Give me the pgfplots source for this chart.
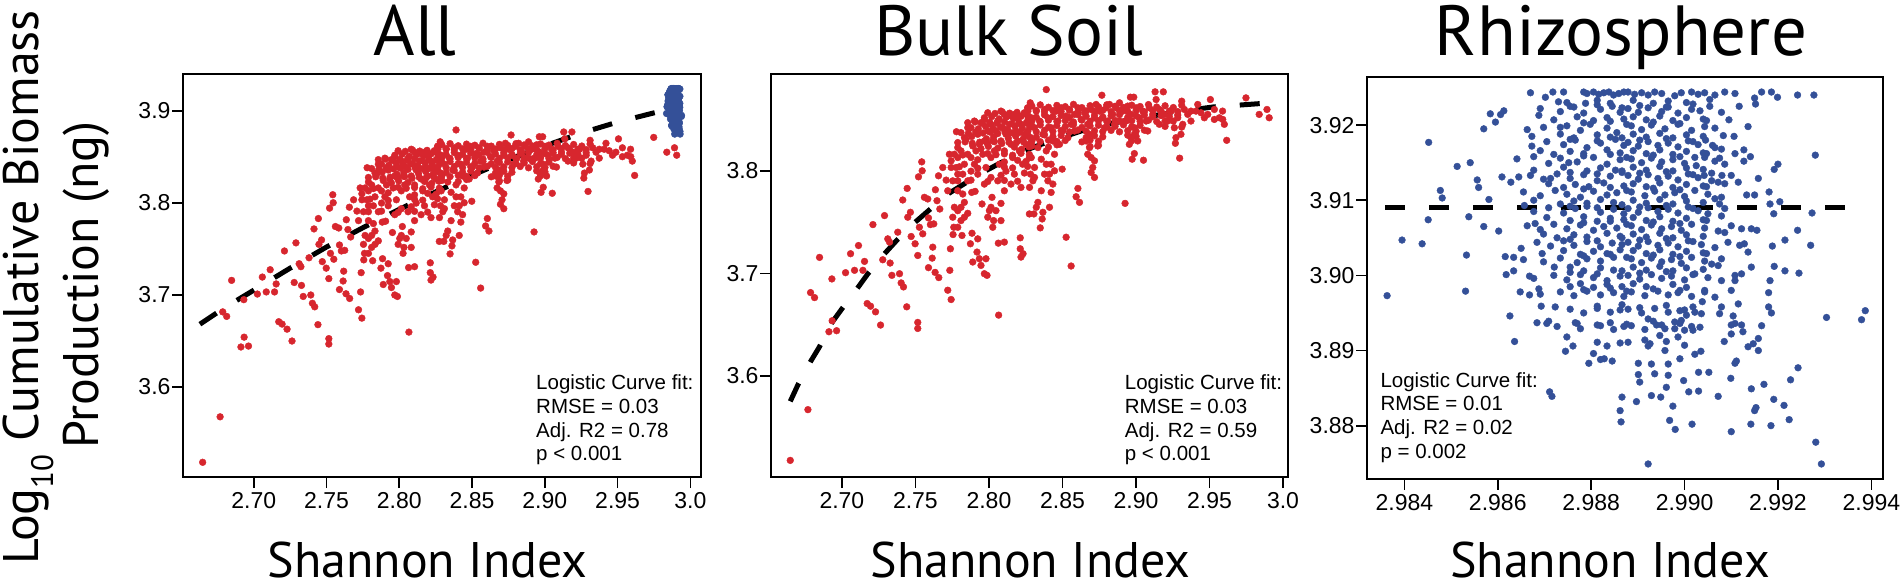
\documentclass[border=0pt]{standalone}
\usepackage{fontspec}
\setmainfont{PT Sans}
\newfontfamily\tickfont{Liberation Sans}
\usepackage{pgfplots}
\pgfplotsset{compat=1.18}
\usepackage{pgfplotstable}
\definecolor{ptred}{RGB}{215,38,46}
\definecolor{ptblue}{RGB}{52,80,152}

\pgfplotstableread{
x y
2.6649 3.5177
2.6769 3.5672
2.6787 3.6814
2.6814 3.6765
2.6848 3.7157
2.6932 3.6947
2.6912 3.6432
2.6964 3.6442
2.6934 3.6539
2.7025 3.7008
2.7059 3.7193
2.7113 3.7273
2.7086 3.7031
2.7143 3.7031
2.7154 3.7118
2.7172 3.6707
2.7195 3.6681
2.7229 3.6626
2.7263 3.6497
2.7211 3.7477
2.7290 3.7565
2.7278 3.7134
2.7328 3.7102
2.7340 3.6982
2.7392 3.6998
2.7403 3.6908
2.7419 3.6869
2.7441 3.6675
2.7380 3.7403
2.7312 3.7338
2.7324 3.7306
2.7414 3.7717
2.7444 3.7830
2.7466 3.7597
2.7448 3.7549
2.7471 3.7361
2.7498 3.7290
2.7516 3.7176
2.7516 3.6523
2.7516 3.6464
2.7527 3.7451
2.7543 3.8089
2.7546 3.8002
2.7521 3.7943
2.7550 3.7387
2.7561 3.7743
2.7584 3.7727
2.7589 3.7542
2.7602 3.7477
2.7625 3.7484
2.7618 3.7257
2.7614 3.7150
2.7589 3.7057
2.7634 3.7011
2.7659 3.6960
2.7647 3.7710
2.7636 3.7817
2.7666 3.7629
2.7657 3.7953
2.7686 3.8034
2.7709 3.7911
2.7731 3.8163
2.7720 3.7807
2.7738 3.7241
2.7734 3.7031
2.7720 3.6837
2.7743 3.6746
2.7756 3.7380
2.7761 3.7451
2.7779 3.8383
2.7754 3.7549
2.7765 3.7646
2.7817 3.7371
2.7874 3.7290
2.7890 3.7112
2.7919 3.7209
2.7935 3.7144
2.7946 3.7079
2.7969 3.6998
2.7987 3.6982
2.7885 3.7393
2.7924 3.7338
2.7980 3.7144
2.8066 3.6594
2.8064 3.7296
2.8105 3.7306
2.8213 3.7348
2.8213 3.7241
2.8218 3.7160
2.8232 3.7193
2.8026 3.7451
2.8032 3.7516
2.8082 3.7516
2.8014 3.7646
2.8003 3.7613
2.8021 3.7743
2.8082 3.7684
2.7953 3.7678
2.7906 3.7801
2.7883 3.7791
2.7856 3.7587
2.7833 3.7694
2.7810 3.7646
2.7788 3.7613
2.7878 3.8131
2.7833 3.8066
2.7844 3.8309
2.7856 3.8422
2.7901 3.8487
2.7946 3.8471
2.7969 3.8503
2.7924 3.8358
2.7969 3.8293
2.8014 3.8131
2.8105 3.8552
2.8150 3.8536
2.8195 3.8519
2.8241 3.8568
2.8281 3.8665
2.7788 3.8131
2.7810 3.8196
2.7822 3.7969
2.7856 3.7904
2.7878 3.7998
2.7901 3.8066
2.7912 3.8196
2.7935 3.8260
2.7958 3.8163
2.7980 3.8034
2.7992 3.8390
2.8014 3.8455
2.8026 3.8293
2.8037 3.8196
2.8048 3.8390
2.8060 3.8487
2.8071 3.8066
2.8082 3.8293
2.8094 3.8422
2.8105 3.8196
2.8116 3.7998
2.8127 3.8358
2.8139 3.8455
2.8150 3.8260
2.8161 3.8131
2.8173 3.7969
2.8184 3.8390
2.8195 3.8293
2.8207 3.8196
2.8218 3.8455
2.8229 3.8066
2.8241 3.8358
2.8252 3.8260
2.8263 3.8487
2.8275 3.8131
2.8218 3.7840
2.8150 3.7872
2.8105 3.7807
2.8060 3.7904
2.8014 3.7937
2.7969 3.7872
2.7924 3.7969
2.7810 3.7516
2.7788 3.7451
2.7833 3.7549
2.7992 3.7549
2.8048 3.7613
2.8275 3.7581
2.8116 3.8358
2.8173 3.8552
2.8082 3.8584
2.8263 3.8616
2.7890 3.8244
2.7856 3.8163
2.7777 3.8034
2.7754 3.7904
2.7788 3.7807
2.7822 3.7775
2.7969 3.8519
2.8019 3.8530
2.8069 3.8508
2.8118 3.8525
2.8168 3.8512
2.8218 3.8533
2.8268 3.8515
2.7878 3.8422
2.7928 3.8411
2.7978 3.8433
2.8028 3.8417
2.8078 3.8428
2.8127 3.8407
2.8177 3.8436
2.8227 3.8419
2.8277 3.8426
2.7833 3.8325
2.7883 3.8336
2.7983 3.8314
2.8032 3.8330
2.8132 3.8319
2.8182 3.8340
2.8232 3.8311
2.8281 3.8328
2.7788 3.8228
2.7946 3.8217
2.7996 3.8239
2.8060 3.8222
2.8173 3.8233
2.8223 3.8212
2.8272 3.8236
2.7743 3.8099
2.7924 3.8110
2.8105 3.8088
2.8195 3.8104
2.8252 3.8093
2.7788 3.7969
2.8082 3.7958
2.8241 3.7980
2.7992 3.8568
2.8041 3.8561
2.8091 3.8575
2.8141 3.8564
2.8191 3.8572
2.8241 3.8559
2.7856 3.8471
2.7906 3.8478
2.7955 3.8464
2.8005 3.8475
2.8055 3.8467
2.8105 3.8480
2.8155 3.8462
2.8204 3.8473
2.8254 3.8469
2.7810 3.8374
2.7860 3.8367
2.7910 3.8381
2.7960 3.8370
2.8010 3.8378
2.8060 3.8365
2.8109 3.8383
2.8159 3.8372
2.8209 3.8376
2.8259 3.8368
2.7788 3.8277
2.7838 3.8284
2.7887 3.8270
2.7937 3.8281
2.7987 3.8273
2.8037 3.8286
2.8087 3.8268
2.8137 3.8279
2.8186 3.8275
2.8236 3.8283
2.8286 3.8271
2.7765 3.8163
2.7822 3.8156
2.7992 3.8170
2.8048 3.8159
2.8105 3.8167
2.8161 3.8154
2.8218 3.8172
2.8275 3.8161
2.7743 3.8034
2.7799 3.8041
2.7924 3.8027
2.8105 3.8038
2.8161 3.8030
2.8263 3.8044
2.7788 3.7904
2.7878 3.7911
2.7992 3.7897
2.8105 3.7908
2.8195 3.7900
2.8390 3.8794
2.8768 3.8739
2.8962 3.8720
2.8985 3.8720
2.9130 3.8772
2.9186 3.8772
2.9137 3.8697
2.9311 3.8681
2.9506 3.8697
2.9748 3.8713
2.9891 3.8600
2.9838 3.8552
2.9906 3.8519
2.9617 3.8299
2.9601 3.8455
2.9567 3.8519
2.9488 3.8552
2.9420 3.8649
2.9408 3.8584
2.9268 3.8270
2.9297 3.8125
2.9051 3.8105
2.8974 3.8115
2.8989 3.8170
2.8955 3.8260
2.8926 3.7684
2.8605 3.7830
2.8616 3.7694
2.8593 3.7749
2.8525 3.7354
2.8559 3.7073
2.8498 3.8018
2.8349 3.7445
2.8362 3.7532
2.8367 3.7597
2.8333 3.7694
2.8306 3.7581
2.8283 3.7969
2.8423 3.7791
2.8435 3.7872
2.8401 3.7904
2.8378 3.7969
2.8423 3.8066
2.8356 3.8115
2.8412 3.7969
2.8706 3.8034
2.8718 3.7937
2.8695 3.7985
2.8672 3.8163
2.8684 3.8228
2.8740 3.8244
2.8718 3.8099
2.8265 3.8616
2.8288 3.8519
2.8310 3.8422
2.8322 3.8584
2.8344 3.8487
2.8367 3.8358
2.8378 3.8600
2.8401 3.8519
2.8423 3.8422
2.8435 3.8293
2.8457 3.8584
2.8469 3.8487
2.8491 3.8616
2.8503 3.8390
2.8525 3.8536
2.8548 3.8600
2.8559 3.8455
2.8582 3.8552
2.8605 3.8616
2.8627 3.8503
2.8650 3.8568
2.8672 3.8455
2.8684 3.8358
2.8695 3.8600
2.8718 3.8519
2.8729 3.8649
2.8752 3.8584
2.8774 3.8519
2.8797 3.8616
2.8820 3.8649
2.8842 3.8552
2.8865 3.8616
2.8888 3.8665
2.8910 3.8584
2.8933 3.8487
2.8944 3.8633
2.8967 3.8552
2.8989 3.8422
2.9001 3.8616
2.9023 3.8519
2.9046 3.8584
2.9069 3.8487
2.9091 3.8616
2.9114 3.8552
2.9159 3.8600
2.9193 3.8552
2.9216 3.8487
2.9239 3.8584
2.9261 3.8422
2.9284 3.8519
2.9306 3.8358
2.9329 3.8600
2.9352 3.8552
2.9374 3.8584
2.9442 3.8568
2.9533 3.8600
2.9590 3.8503
2.8288 3.8293
2.8333 3.8228
2.8390 3.8196
2.8446 3.8163
2.8480 3.8260
2.8537 3.8325
2.8582 3.8390
2.8661 3.8293
2.8695 3.8131
2.8288 3.8131
2.8310 3.8034
2.8276 3.7840
2.8299 3.7904
2.8390 3.8066
2.8446 3.8002
2.8356 3.7807
2.8322 3.7646
2.8412 3.7646
2.8310 3.7937
2.8989 3.8358
2.9012 3.8293
2.8967 3.8325
2.9159 3.8455
2.9080 3.8390
2.8786 3.8422
2.8854 3.8455
2.8888 3.8487
2.8808 3.8487
2.9318 3.8455
2.9272 3.8325
2.8292 3.8633
2.8349 3.8645
2.8405 3.8622
2.8462 3.8640
2.8519 3.8628
2.8575 3.8650
2.8632 3.8618
2.8688 3.8637
2.8745 3.8626
2.8802 3.8646
2.8858 3.8631
2.8915 3.8620
2.8971 3.8642
2.9028 3.8629
2.9085 3.8648
2.9141 3.8624
2.9198 3.8636
2.9254 3.8619
2.9311 3.8641
2.8265 3.8536
2.8322 3.8525
2.8378 3.8547
2.8435 3.8530
2.8491 3.8541
2.8548 3.8522
2.8605 3.8550
2.8661 3.8533
2.8718 3.8544
2.8774 3.8527
2.8831 3.8539
2.8888 3.8549
2.8944 3.8524
2.9001 3.8537
2.9057 3.8545
2.9114 3.8529
2.9171 3.8540
2.9227 3.8531
2.9284 3.8546
2.8292 3.8438
2.8349 3.8449
2.8405 3.8427
2.8462 3.8443
2.8519 3.8432
2.8575 3.8452
2.8632 3.8425
2.8688 3.8440
2.8745 3.8446
2.8802 3.8429
2.8858 3.8436
2.8915 3.8450
2.8971 3.8431
2.9028 3.8444
2.9198 3.8435
2.9311 3.8428
2.8265 3.8341
2.8322 3.8330
2.8378 3.8352
2.8435 3.8336
2.8491 3.8347
2.8661 3.8326
2.8718 3.8344
2.8774 3.8333
2.8944 3.8349
2.9001 3.8338
2.8292 3.8244
2.8405 3.8233
2.8462 3.8255
2.8688 3.8239
2.8745 3.8250
2.8265 3.8584
2.8322 3.8590
2.8378 3.8578
2.8435 3.8588
2.8491 3.8580
2.8548 3.8592
2.8605 3.8576
2.8661 3.8586
2.8718 3.8582
2.8774 3.8591
2.8831 3.8579
2.8888 3.8587
2.8944 3.8581
2.9001 3.8593
2.9057 3.8577
2.9114 3.8589
2.9171 3.8583
2.9227 3.8585
2.9284 3.8579
2.8292 3.8487
2.8349 3.8480
2.8405 3.8494
2.8462 3.8483
2.8519 3.8491
2.8575 3.8478
2.8632 3.8496
2.8688 3.8485
2.8745 3.8489
2.8802 3.8481
2.8858 3.8493
2.8915 3.8479
2.8971 3.8490
2.9028 3.8484
2.9085 3.8495
2.9141 3.8482
2.9198 3.8488
2.9254 3.8486
2.8265 3.8390
2.8322 3.8383
2.8378 3.8397
2.8435 3.8386
2.8491 3.8394
2.8548 3.8381
2.8605 3.8399
2.8661 3.8388
2.8718 3.8392
2.8774 3.8384
2.8831 3.8396
2.8888 3.8382
2.8944 3.8393
2.9001 3.8387
2.9057 3.8398
2.8292 3.8293
2.8349 3.8286
2.8405 3.8300
2.8462 3.8289
2.8519 3.8297
2.8632 3.8284
2.8688 3.8302
2.8745 3.8291
2.8971 3.8295
2.9374 3.8487
2.9465 3.8519
2.9533 3.8503
2.9589 3.8584
}\redpts

\pgfplotstableread{
x y
2.98363 3.8973
2.98395 3.9047
2.98438 3.9042
2.98451 3.9074
2.98452 3.9177
2.98477 3.9113
2.98481 3.9103
2.98513 3.9145
2.98541 3.9150
2.98538 3.9078
2.98533 3.9027
2.98531 3.8979
2.98556 3.9127
2.98559 3.9117
2.98570 3.9195
2.98570 3.9065
2.98581 3.9101
2.98584 3.9215
2.98595 3.9204
2.98602 3.9059
2.98606 3.9214
2.98613 3.9219
2.98609 3.9131
2.98616 3.9025
2.98618 3.9001
2.98626 3.8946
2.98628 3.9124
2.98634 3.9006
2.98636 3.8912
2.98634 3.9024
2.98645 3.9131
2.98648 3.8978
2.98650 3.9036
2.98655 3.9021
2.98657 3.9093
2.98663 3.9194
2.98668 3.8974
2.98668 3.8999
2.98670 3.9243
2.98673 3.9185
2.98677 3.9140
2.98680 3.9069
2.98684 3.8937
2.98688 3.9213
2.98688 3.8982
2.98691 3.8975
2.98693 3.8959
2.98695 3.9029
2.98698 3.9197
2.98702 3.9237
2.98705 3.8936
2.98709 3.8939
2.98711 3.8845
2.98716 3.8839
2.98713 3.9129
2.98718 3.9244
2.98721 3.9011
2.98723 3.8958
2.98727 3.8932
2.98730 3.9231
2.98734 3.9197
2.98741 3.9244
2.98745 3.8899
2.98748 3.8918
2.98752 3.9150
2.98755 3.8985
2.98761 3.8906
2.98766 3.8937
2.98770 3.8936
2.98784 3.9244
2.98788 3.9229
2.98795 3.8883
2.98805 3.8896
2.98813 3.8934
2.98820 3.8888
2.98828 3.8889
2.98845 3.8886
2.98862 3.8820
2.98864 3.8805
2.98866 3.8838
2.98791 3.9242
2.98805 3.9244
2.98816 3.9241
2.98827 3.9243
2.98838 3.9244
2.98848 3.9240
2.98859 3.9242
2.98870 3.9244
2.98748 3.9230
2.98813 3.9233
2.98841 3.9229
2.98691 3.9222
2.98734 3.9218
2.98763 3.9224
2.98784 3.9216
2.98820 3.9221
2.98845 3.9225
2.98862 3.9217
2.98720 3.9207
2.98770 3.9211
2.98805 3.9206
2.98834 3.9210
2.98870 3.9208
2.98748 3.9199
2.98777 3.9193
2.98798 3.9201
2.98834 3.9196
2.98855 3.9190
2.98734 3.9188
2.98763 3.9183
2.98813 3.9187
2.98841 3.9184
2.98673 3.9172
2.98705 3.9178
2.98741 3.9174
2.98766 3.9180
2.98791 3.9170
2.98820 3.9176
2.98852 3.9181
2.98870 3.9173
2.98691 3.9166
2.98720 3.9161
2.98755 3.9165
2.98784 3.9162
2.98834 3.9167
2.98862 3.9163
2.98641 3.9155
2.98677 3.9158
2.98709 3.9149
2.98734 3.9156
2.98770 3.9151
2.98805 3.9157
2.98834 3.9148
2.98862 3.9154
2.98741 3.9144
2.98791 3.9139
2.98820 3.9143
2.98852 3.9140
2.98670 3.9133
2.98698 3.9128
2.98727 3.9135
2.98755 3.9129
2.98784 3.9134
2.98813 3.9126
2.98841 3.9132
2.98866 3.9137
2.98709 3.9122
2.98741 3.9117
2.98766 3.9121
2.98795 3.9118
2.98827 3.9123
2.98870 3.9119
2.98655 3.9111
2.98691 3.9106
2.98723 3.9113
2.98748 3.9108
2.98777 3.9104
2.98805 3.9112
2.98834 3.9107
2.98855 3.9110
2.98677 3.9100
2.98734 3.9095
2.98763 3.9099
2.98791 3.9096
2.98820 3.9101
2.98848 3.9097
2.98677 3.9085
2.98709 3.9090
2.98741 3.9083
2.98766 3.9089
2.98791 3.9092
2.98820 3.9084
2.98848 3.9088
2.98870 3.9082
2.98705 3.9077
2.98755 3.9073
2.98784 3.9078
2.98813 3.9072
2.98841 3.9076
2.98870 3.9074
2.98663 3.9066
2.98691 3.9061
2.98720 3.9068
2.98748 3.9062
2.98777 3.9067
2.98805 3.9060
2.98827 3.9065
2.98855 3.9063
2.98698 3.9055
2.98727 3.9050
2.98763 3.9054
2.98791 3.9051
2.98834 3.9056
2.98862 3.9052
2.98684 3.9044
2.98713 3.9039
2.98741 3.9046
2.98763 3.9040
2.98791 3.9045
2.98820 3.9038
2.98845 3.9043
2.98866 3.9041
2.98741 3.9033
2.98777 3.9028
2.98805 3.9032
2.98834 3.9029
2.98862 3.9034
2.98698 3.9018
2.98734 3.9023
2.98770 3.9017
2.98791 3.9022
2.98820 3.9019
2.98848 3.9024
2.98755 3.9011
2.98784 3.9006
2.98820 3.9010
2.98848 3.9007
2.98677 3.8996
2.98720 3.9000
2.98748 3.8994
2.98777 3.9001
2.98805 3.8997
2.98834 3.8993
2.98862 3.8999
2.98777 3.8989
2.98805 3.8984
2.98834 3.8988
2.98866 3.8985
2.98734 3.8978
2.98763 3.8973
2.98791 3.8979
2.98820 3.8974
2.98848 3.8977
2.98870 3.8972
2.98755 3.8955
2.98784 3.8950
2.98813 3.8956
2.98841 3.8951
2.98862 3.8954
2.98777 3.8929
2.98820 3.8933
2.98848 3.8928
2.98870 3.8932
2.98813 3.8911
2.98834 3.8906
2.98862 3.8910
2.98922 3.8749
2.99293 3.8749
2.99281 3.8778
2.99100 3.8792
2.98980 3.8795
2.99016 3.8802
2.98968 3.8807
2.99142 3.8802
2.99185 3.8800
2.99224 3.8808
2.99213 3.8827
2.99150 3.8820
2.99153 3.8824
2.99191 3.8835
2.99072 3.8839
2.99143 3.8849
2.99170 3.8855
2.99227 3.8861
2.99243 3.8877
2.99099 3.8863
2.98998 3.8860
2.99030 3.8871
2.99052 3.8871
2.98965 3.8867
2.98936 3.8869
2.98901 3.8868
2.98904 3.8858
2.98897 3.8832
2.98929 3.8840
2.98949 3.8838
2.98961 3.8851
2.98975 3.8826
2.99009 3.8845
2.99030 3.8846
2.98901 3.8883
2.98929 3.8882
2.98965 3.8882
2.98990 3.8889
2.99022 3.8895
2.99035 3.8899
2.99108 3.8883
2.99111 3.8886
2.99304 3.8944
2.99379 3.8941
2.99387 3.8953
2.99273 3.9083
2.99280 3.9160
2.99270 3.9040
2.99242 3.9060
2.99215 3.9047
2.99188 3.9039
2.99192 3.9012
2.99215 3.9006
2.99245 3.9003
2.99183 3.8993
2.99180 3.8977
2.99180 3.8958
2.99186 3.8950
2.99165 3.8933
2.99158 3.8916
2.99147 3.8909
2.99136 3.8905
2.99158 3.8900
2.99125 3.8925
2.99122 3.8934
2.99108 3.8936
2.99085 3.8912
2.99100 3.8922
2.99277 3.9240
2.99242 3.9240
2.99199 3.9237
2.99186 3.9244
2.99165 3.9244
2.99150 3.9236
2.99152 3.9228
2.99117 3.9225
2.99136 3.9198
2.99095 3.9207
2.99158 3.9129
2.99200 3.9148
2.99192 3.9141
2.99204 3.9098
2.99181 3.9111
2.99183 3.9095
2.99191 3.9082
2.99141 3.9158
2.99127 3.9167
2.99127 3.9152
2.99108 3.9162
2.99106 3.9185
2.99083 3.9186
2.99060 3.9173
2.99045 3.9180
2.99043 3.9157
2.99025 3.9146
2.99042 3.9133
2.99058 3.9136
2.99080 3.9133
2.99086 3.9122
2.99115 3.9124
2.99133 3.9107
2.99150 3.9107
2.99143 3.9062
2.99155 3.9060
2.99128 3.9042
2.99136 3.9031
2.99143 3.9011
2.99122 3.9002
2.99108 3.8993
2.99100 3.8980
2.99115 3.8962
2.99104 3.8946
2.99100 3.8934
2.99079 3.8958
2.99075 3.8949
2.99065 3.8971
2.99043 3.8978
2.99038 3.8965
2.99022 3.8951
2.99033 3.8931
2.99018 3.8927
2.99004 3.8947
2.98993 3.8940
2.98990 3.8953
2.98979 3.8938
2.98958 3.8929
2.98947 3.8920
2.98940 3.8934
2.98922 3.8942
2.98915 3.8914
2.98926 3.8909
2.98958 3.8900
2.98986 3.8918
2.99000 3.8927
2.98879 3.9244
2.98893 3.9241
2.98908 3.9243
2.98922 3.9240
2.98936 3.9244
2.98951 3.9242
2.98979 3.9239
2.98993 3.9243
2.99015 3.9244
2.99029 3.9241
2.99043 3.9243
2.99065 3.9240
2.99086 3.9244
2.99108 3.9242
2.98890 3.9233
2.98933 3.9229
2.98965 3.9232
2.99004 3.9230
2.99054 3.9234
2.98879 3.9222
2.98901 3.9217
2.98922 3.9223
2.98951 3.9218
2.98965 3.9224
2.98986 3.9216
2.99015 3.9221
2.99033 3.9219
2.99054 3.9225
2.99079 3.9217
2.98890 3.9211
2.98918 3.9207
2.98947 3.9212
2.98975 3.9206
2.99004 3.9210
2.99040 3.9208
2.98886 3.9199
2.98908 3.9194
2.98929 3.9200
2.98958 3.9195
2.98986 3.9201
2.99015 3.9193
2.99043 3.9198
2.99065 3.9196
2.98890 3.9188
2.98918 3.9184
2.98947 3.9189
2.98975 3.9183
2.99004 3.9187
2.99040 3.9185
2.98879 3.9177
2.98901 3.9172
2.98922 3.9178
2.98943 3.9173
2.98965 3.9176
2.98986 3.9171
2.99008 3.9179
2.99029 3.9174
2.99065 3.9170
2.98890 3.9166
2.98918 3.9162
2.98947 3.9167
2.98975 3.9161
2.99004 3.9165
2.99040 3.9163
2.99079 3.9168
2.98886 3.9155
2.98908 3.9150
2.98929 3.9156
2.98951 3.9151
2.98975 3.9154
2.99000 3.9149
2.99022 3.9157
2.99065 3.9152
2.99086 3.9148
2.98890 3.9144
2.98918 3.9140
2.98947 3.9145
2.98975 3.9139
2.99004 3.9143
2.99040 3.9141
2.98879 3.9133
2.98901 3.9128
2.98922 3.9134
2.98943 3.9129
2.98965 3.9132
2.98986 3.9127
2.99008 3.9135
2.99029 3.9130
2.99058 3.9126
2.99100 3.9133
2.98890 3.9122
2.98918 3.9118
2.98947 3.9123
2.98975 3.9117
2.99004 3.9121
2.99040 3.9119
2.99072 3.9124
2.98886 3.9111
2.98915 3.9106
2.98936 3.9112
2.98958 3.9107
2.98979 3.9110
2.99000 3.9105
2.99022 3.9113
2.99050 3.9108
2.99079 3.9104
2.98890 3.9100
2.98918 3.9096
2.98947 3.9101
2.98975 3.9095
2.99004 3.9099
2.99040 3.9097
2.99065 3.9102
2.98879 3.9089
2.98901 3.9084
2.98922 3.9090
2.98943 3.9085
2.98965 3.9088
2.98986 3.9083
2.99008 3.9091
2.99029 3.9086
2.99050 3.9082
2.99086 3.9089
2.98890 3.9077
2.98918 3.9073
2.98947 3.9078
2.98975 3.9072
2.99004 3.9076
2.99040 3.9074
2.99079 3.9079
2.98886 3.9066
2.98908 3.9061
2.98929 3.9067
2.98951 3.9062
2.98972 3.9065
2.98993 3.9060
2.99015 3.9068
2.99043 3.9063
2.99072 3.9059
2.99100 3.9066
2.99122 3.9062
2.98890 3.9055
2.98918 3.9051
2.98947 3.9056
2.98975 3.9050
2.99004 3.9054
2.99040 3.9052
2.99086 3.9057
2.98879 3.9044
2.98901 3.9039
2.98922 3.9045
2.98943 3.9040
2.98965 3.9043
2.98986 3.9038
2.99008 3.9046
2.99036 3.9041
2.99065 3.9037
2.99093 3.9044
2.99118 3.9040
2.98890 3.9033
2.98918 3.9029
2.98947 3.9034
2.98975 3.9028
2.99004 3.9032
2.99040 3.9030
2.98886 3.9022
2.98908 3.9017
2.98929 3.9023
2.98951 3.9018
2.98972 3.9021
2.98993 3.9016
2.99015 3.9024
2.99043 3.9019
2.99058 3.9015
2.99079 3.9022
2.98890 3.9011
2.98918 3.9007
2.98947 3.9012
2.98975 3.9006
2.99004 3.9010
2.99040 3.9008
2.99072 3.9013
2.98879 3.9000
2.98904 3.8995
2.98929 3.9001
2.98951 3.8996
2.98972 3.8999
2.99000 3.8994
2.99022 3.9002
2.99050 3.8997
2.99079 3.8993
2.99108 3.9000
2.98890 3.8989
2.98918 3.8985
2.98975 3.8988
2.99004 3.8984
2.98886 3.8978
2.98915 3.8973
2.98943 3.8979
2.98965 3.8974
2.98986 3.8977
2.99015 3.8972
2.99043 3.8980
2.98879 3.8955
2.98908 3.8950
2.98936 3.8956
2.98965 3.8951
2.99000 3.8954
2.99036 3.8949
2.98886 3.8933
2.98915 3.8928
2.98951 3.8934
2.98979 3.8929
2.99015 3.8932
2.98879 3.8911
2.98922 3.8906
2.98961 3.8912
2.99000 3.8907
2.98755 3.9225
2.98813 3.9227
2.98866 3.9223
2.98904 3.9226
2.98961 3.9224
2.99018 3.9228
2.98784 3.9203
2.98841 3.9205
2.98876 3.9201
2.98933 3.9204
2.98990 3.9202
2.99047 3.9206
2.98755 3.9181
2.98813 3.9179
2.98866 3.9183
2.98904 3.9180
2.98961 3.9182
2.99018 3.9178
2.98784 3.9159
2.98841 3.9161
2.98876 3.9157
2.98933 3.9160
2.98990 3.9158
2.99047 3.9162
2.99075 3.9156
2.98755 3.9137
2.98813 3.9135
2.98866 3.9139
2.98904 3.9136
2.98961 3.9138
2.99018 3.9134
2.98784 3.9115
2.98841 3.9117
2.98876 3.9113
2.98933 3.9116
2.98990 3.9114
2.99047 3.9118
2.98755 3.9092
2.98813 3.9090
2.98866 3.9094
2.98904 3.9091
2.98961 3.9093
2.99018 3.9089
2.99075 3.9095
2.98784 3.9070
2.98841 3.9072
2.98876 3.9068
2.98933 3.9071
2.98990 3.9069
2.99047 3.9073
2.98755 3.9048
2.98813 3.9046
2.98866 3.9050
2.98904 3.9047
2.98961 3.9049
2.99018 3.9045
2.98784 3.9026
2.98841 3.9028
2.98876 3.9024
2.98933 3.9027
2.98990 3.9025
2.99047 3.9029
2.98755 3.9004
2.98813 3.9002
2.98866 3.9006
2.98904 3.9003
2.98961 3.9005
2.99018 3.9001
2.98784 3.8981
2.98841 3.8983
2.98876 3.8979
2.98933 3.8982
2.98990 3.8980
2.98813 3.8959
2.98866 3.8961
2.98904 3.8957
2.98961 3.8960
2.99018 3.8958
2.98841 3.8937
2.98876 3.8935
2.98933 3.8939
2.98990 3.8936
}\bluepts

\pgfplotstableread{
x y
2.663 3.668
2.680 3.686
2.700 3.705
2.725 3.729
2.750 3.752
2.775 3.773
2.800 3.793
2.825 3.812
2.850 3.830
2.875 3.847
2.900 3.862
2.925 3.876
2.950 3.888
2.975 3.898
2.994 3.905
}\fitall

\pgfplotstableread{
x y
2.6649 3.5753
2.6701 3.5914
2.6787 3.6141
2.6848 3.6286
2.6928 3.6513
2.7002 3.6659
2.7104 3.6853
2.7177 3.6998
2.7290 3.7193
2.7376 3.7328
2.7498 3.7500
2.7589 3.7613
2.7720 3.7775
2.7829 3.7872
2.7969 3.7995
2.8082 3.8082
2.8195 3.8163
2.8286 3.8222
2.8356 3.8260
2.8525 3.8341
2.8627 3.8390
2.8808 3.8455
2.8933 3.8493
2.9103 3.8535
2.9239 3.8568
2.9397 3.8600
2.9533 3.8626
2.9696 3.8642
2.9850 3.8658
}\fitbulk

\pgfplotstableread{
x y
2.98359 3.909
2.99345 3.909
}\fitrhizo

\pgfplotsset{
  panel/.style={
    scale only axis,
    anchor=south west,
    tick align=outside,
    major tick length=11pt,
    xtick pos=left,
    ytick pos=left,
    axis line style={line width=1.7pt, black},
    tick style={line width=1.7pt, black},
    ticklabel style={font=\tickfont\fontsize{23}{23}\selectfont},
    yticklabel style={xshift=2pt},
    xticklabel style={yshift=-1pt},
    clip=true,
  },
  redmarks/.style={only marks, color=ptred, mark=*, mark size=3.4pt, mark options={draw=ptred, fill=ptred, line width=0.4pt}},
  bluemarks/.style={only marks, color=ptblue, mark=*, mark size=3.4pt, mark options={draw=ptblue, fill=ptblue, line width=0.4pt}},
  fitline/.style={no marks, black, line width=5pt, dash pattern=on 20pt off 24pt},
}

\newcommand{\annfont}{\tickfont\fontsize{20.5}{24}\selectfont}
\newcommand{\labfont}{\fontsize{50}{60}\selectfont}
\newcommand{\titfont}{\fontsize{71}{80}\selectfont}

\begin{document}
\begin{tikzpicture}
\useasboundingbox (0pt,0pt) rectangle (1902pt,587pt);

% Panel 1: All
\begin{axis}[panel, at={(183pt,110pt)}, width=518pt, height=403pt,
  xmin=2.6514, xmax=3.0073, ymin=3.5017, ymax=3.9403,
  xtick={2.70,2.75,2.80,2.85,2.90,2.95,3.0},
  xticklabels={2.70,2.75,2.80,2.85,2.90,2.95,3.0},
  ytick={3.6,3.7,3.8,3.9},
  yticklabels={3.6,3.7,3.8,3.9}]
\addplot[redmarks] table[x=x,y=y]{\redpts};
\addplot[bluemarks] table[x=x,y=y]{\bluepts};
\addplot[fitline] table[x=x,y=y]{\fitall};
\end{axis}

% Panel 2: Bulk Soil
\begin{axis}[panel, at={(771pt,110pt)}, width=517pt, height=403pt,
  xmin=2.6518, xmax=3.0034, ymin=3.5015, ymax=3.8946,
  xtick={2.70,2.75,2.80,2.85,2.90,2.95,3.0},
  xticklabels={2.70,2.75,2.80,2.85,2.90,2.95,3.0},
  ytick={3.6,3.7,3.8},
  yticklabels={3.6,3.7,3.8}]
\addplot[redmarks] table[x=x,y=y]{\redpts};
\addplot[fitline] table[x=x,y=y]{\fitbulk};
\end{axis}

% Panel 3: Rhizosphere
\begin{axis}[panel, at={(1367pt,108pt)}, width=516pt, height=402pt,
  xmin=2.98320, xmax=2.99425, ymin=3.8729, ymax=3.9264,
  xtick={2.984,2.986,2.988,2.990,2.992,2.994},
  xticklabels={2.984,2.986,2.988,2.990,2.992,2.994},
  ytick={3.88,3.89,3.90,3.91,3.92},
  yticklabels={3.88,3.89,3.90,3.91,3.92}]
\addplot[bluemarks] table[x=x,y=y]{\bluepts};
\addplot[fitline] table[x=x,y=y]{\fitrhizo};
\end{axis}

% titles
\node[anchor=base, font=\titfont, inner sep=0pt] at (415pt,531pt) {All};
\node[anchor=base, font=\titfont, inner sep=0pt] at (1008.6pt,531pt) {Bulk Soil};
\node[anchor=base, font=\titfont, inner sep=0pt] at (1621pt,531pt) {Rhizosphere};

% x labels
\node[anchor=base, font=\labfont, inner sep=0pt, text depth=0pt] at (427.5pt,10pt) {Shannon Index};
\node[anchor=base, font=\labfont, inner sep=0pt, text depth=0pt] at (1030.5pt,10pt) {Shannon Index};
\node[anchor=base, font=\labfont, inner sep=0pt, text depth=0pt] at (1610pt,10pt) {Shannon Index};

% y label
\node[rotate=90, anchor=base, font=\labfont, inner sep=0pt] at (38pt,299.5pt) {Log\raisebox{-15pt}{\fontsize{31}{31}\selectfont 10} Cumulative Biomass};
\node[rotate=90, anchor=base, font=\labfont, inner sep=0pt] at (98pt,302pt) {Production (ng)};

% annotations
\node[anchor=base west, font=\annfont, inner sep=0pt] at (536pt,197.7pt) {Logistic Curve fit:};
\node[anchor=base west, font=\annfont, inner sep=0pt] at (536pt,173.7pt) {RMSE = 0.03};
\node[anchor=base west, font=\annfont, inner sep=0pt] at (536pt,149.7pt) {Adj. R2 = 0.78};
\node[anchor=base west, font=\annfont, inner sep=0pt] at (536pt,126.3pt) {p < 0.001};

\node[anchor=base west, font=\annfont, inner sep=0pt] at (1124.7pt,197.7pt) {Logistic Curve fit:};
\node[anchor=base west, font=\annfont, inner sep=0pt] at (1124.7pt,173.7pt) {RMSE = 0.03};
\node[anchor=base west, font=\annfont, inner sep=0pt] at (1124.7pt,149.7pt) {Adj. R2 = 0.59};
\node[anchor=base west, font=\annfont, inner sep=0pt] at (1124.7pt,126.3pt) {p < 0.001};

\node[anchor=base west, font=\annfont, inner sep=0pt] at (1380.3pt,200pt) {Logistic Curve fit:};
\node[anchor=base west, font=\annfont, inner sep=0pt] at (1380.3pt,177pt) {RMSE = 0.01};
\node[anchor=base west, font=\annfont, inner sep=0pt] at (1380.3pt,152.3pt) {Adj. R2 = 0.02};
\node[anchor=base west, font=\annfont, inner sep=0pt] at (1380.3pt,129pt) {p = 0.002};
\end{tikzpicture}
\end{document}
